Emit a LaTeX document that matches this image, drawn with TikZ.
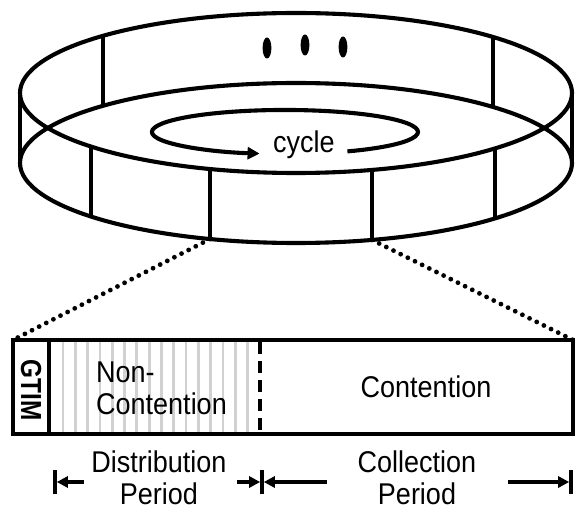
\documentclass[tikz,border=0pt]{standalone}
\usepackage{fontspec}
\setmainfont{Liberation Sans}
\newfontfamily\lbf[FakeStretch=0.9]{Liberation Sans}
\newfontfamily\gtf[FakeStretch=0.84]{Liberation Sans Bold}
\usetikzlibrary{arrows.meta}
\begin{document}
\begin{tikzpicture}[x=1pt,y=-1pt,
  ringline/.style={line width=4.1pt},
  barline/.style={line width=4.5pt},
  dotline/.style={line width=4.8pt, line cap=round, dash pattern=on 0pt off 8pt},
  stripe/.style={line width=2.8pt, draw=black!18},
  lbl/.style={inner sep=0pt, font=\lbf\fontsize{30}{32}\selectfont},
  dimarrow/.style={line width=3.6pt, -{Triangle[length=11pt,width=11pt]}},
  tick/.style={line width=3.6pt},
]
\useasboundingbox (0,0) rectangle (577,510);
% ring
\draw[ringline] (296,93) ellipse [x radius=276, y radius=80];
\draw[ringline] (296,163) ellipse [x radius=276, y radius=80];
\draw[ringline] (20,93) -- (20,163);
\draw[ringline] (572,93) -- (572,163);
% back verticals
\draw[ringline] (103,35.6) -- (103,105.6);
\draw[ringline] (493,36.8) -- (493,106.8);
% front verticals
\draw[ringline] (91,146.8) -- (91,216.8);
\coordinate (sa) at (210,239);
\coordinate (sb) at (372,239.9);
\draw[ringline] (210,169) -- (sa);
\draw[ringline] (372,169.9) -- (sb);
\draw[ringline] (495,148.6) -- (495,218.6);
% dots
\fill (267,48) ellipse [x radius=4.4, y radius=10.5];
\fill (305,45) ellipse [x radius=4.4, y radius=10.5];
\fill (343,47) ellipse [x radius=4.4, y radius=10.5];
% cycle
\draw[ringline, -{Triangle[length=12pt,width=12pt]}] (347.4,151.4)
  arc [start angle=62, end angle=-259, x radius=133, y radius=22];
\node[lbl, anchor=base] (cycle) at (304,153) {cycle};
% bar
\foreach \i in {0,...,15} \draw[stripe] ({63+12.3*\i},342) -- ({63+12.3*\i},432);
\draw[line width=3.6pt, dash pattern=on 12pt off 7pt] (260,342) -- (260,432);
\coordinate (btl) at (13,340);
\coordinate (btr) at (573,340);
\draw[barline] (btl) rectangle (573,434);
\draw[barline] (49,340) -- (49,434);
\node[inner sep=0pt, rotate=-90, font=\gtf\fontsize{29}{29}\selectfont] (gtim) at (31,390) {GTIM};
\node[lbl, align=left, anchor=west] (noncont) at (96,388) {Non-\\Contention};
\node[lbl, anchor=base] (cont) at (426,397) {Contention};
% dotted zoom lines
\draw[dotline] (sa) -- (btl);
\draw[dotline] (sb) -- (btr);
% dimension labels
\node[lbl, align=center] (dist) at (159,477.5) {Distribution\\Period};
\node[lbl, align=center] (coll) at (417,477.5) {Collection\\Period};
\coordinate (t1) at (55,482);
\coordinate (t2) at (262,482);
\coordinate (t3) at (571,482);
\draw[tick] (55,470) -- (55,494);
\draw[tick] (262,470) -- (262,494);
\draw[tick] (571,470) -- (571,494);
\draw[dimarrow] (84,482) -- ([xshift=1.8pt]t1);
\draw[dimarrow] (237,482) -- ([xshift=-1.8pt]t2);
\draw[dimarrow] (327,482) -- ([xshift=1.8pt]t2);
\draw[dimarrow] (508,482) -- ([xshift=-1.8pt]t3);
\end{tikzpicture}
\end{document}
